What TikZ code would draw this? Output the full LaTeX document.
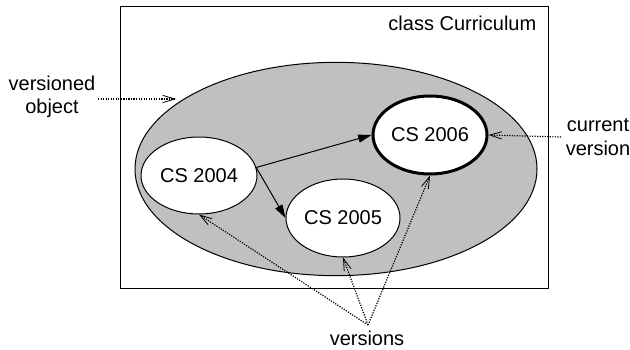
\documentclass[tikz,border=0pt]{standalone}
\usepackage{fontspec}
\setmainfont{Liberation Sans}
\usetikzlibrary{arrows.meta, positioning, shapes.geometric}
\definecolor{objgray}{HTML}{C0C0C0}

\begin{document}
\begin{tikzpicture}[
  x=0.75pt, y=-0.75pt,
  every node/.style={font=\fontsize{15}{17.5}\selectfont},
  version/.style={ellipse, draw=black, fill=white, line width=0.75pt, minimum width=85.5pt, minimum height=58.5pt, inner sep=0pt},
  vlink/.style={densely dotted, line width=0.9pt, -{Straight Barb[length=9pt, width=5.5pt, line width=0.6pt]}},
  flow/.style={line width=0.75pt, -{Triangle[length=10pt, width=6pt]}},
]
\useasboundingbox (0,0) rectangle (630,349);

% class frame and versioned object
\draw[line width=0.75pt] (120,7) rectangle (548,288);
\node[anchor=east] (cls) at (541,23) {class Curriculum};
\node[ellipse, draw=black, fill=objgray, line width=0.75pt, minimum width=301.5pt, minimum height=160pt] (obj) at (336,169) {};

% versions
\node[version, minimum width=87pt, minimum height=57.75pt] (c2004) at (199,175.5) {CS 2004};
\node[version] (c2005) at (343,218) {CS 2005};
\node[version, line width=2.25pt] (c2006) at (430,135) {CS 2006};

\draw[flow] (c2004.8) -- (c2006.west);
\draw[flow] (c2004.8) -- (c2005.west);

% annotations
\node[align=center] (vobj) at (52,97) {versioned\\object};
\node[align=center] (cur) at (598,137) {current\\version};
\node[inner sep=1pt] (vers) at (367,338) {versions};
\coordinate (vsrc) at (368,325);
\coordinate (vobjstart) at (98,99);
\coordinate (vobjend) at (176,99);

\draw[vlink] (vobjstart) -- (vobjend);
\draw[vlink] (cur.west) -- (c2006.east);
\draw[vlink] (vsrc) -- (c2004.south);
\draw[vlink] (vsrc) -- (c2005.south);
\draw[vlink] (vsrc) -- (c2006.south);

\end{tikzpicture}
\end{document}
